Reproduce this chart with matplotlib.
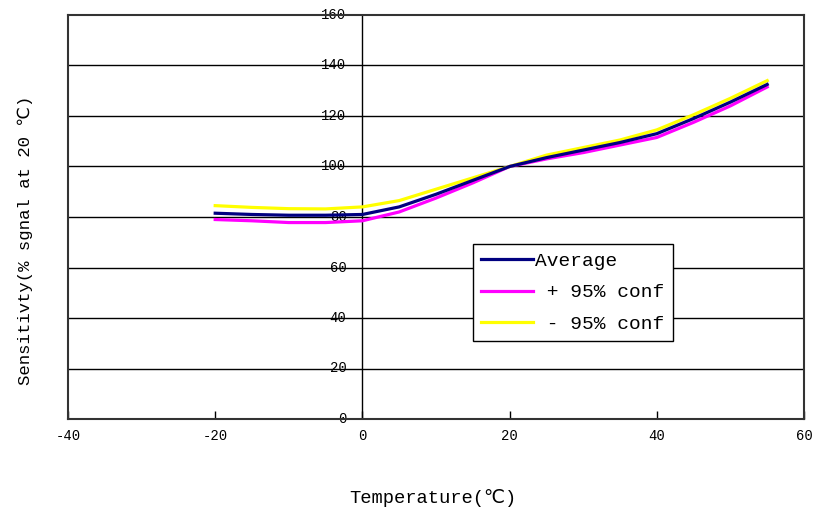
import matplotlib
matplotlib.use("Agg")
import matplotlib.pyplot as plt

plt.rcParams['font.family'] = ['Liberation Mono', 'DejaVu Sans Mono', 'DejaVu Sans']

temps = [-20, -15, -10, -5, 0, 5, 10, 15, 20, 25, 30, 35, 40, 45, 50, 55]
average = [81.5, 81.0, 80.7, 80.7, 81.0, 84.0, 89.0, 94.5, 100.0, 103.5, 106.5, 109.5, 113.0, 119.0, 125.5, 132.5]
plus_conf = [79.0, 78.5, 77.8, 77.8, 78.5, 82.0, 87.5, 93.5, 100.0, 103.0, 105.5, 108.5, 111.5, 117.5, 124.0, 131.5]
minus_conf = [84.5, 83.8, 83.3, 83.2, 84.0, 86.5, 91.0, 95.5, 100.0, 104.5, 107.5, 110.5, 114.5, 120.5, 127.0, 134.0]

x_ticks = [-40, -20, 0, 20, 40, 60]
y_ticks = [0, 20, 40, 60, 80, 100, 120, 140, 160]
labels = ["Average", " + 95% conf", " - 95% conf"]

W, H = 816, 514
fig = plt.figure(figsize=(W / 100, H / 100), dpi=100)
ax = fig.add_axes([68 / W, 1 - 419 / H, (804 - 68) / W, (419 - 15) / H])

ax.set_xlim(-40, 60)
ax.set_ylim(0, 160)

for v in y_ticks[1:-1]:
    ax.axhline(v, color='black', lw=1.0, zorder=1)
ax.axvline(0, color='black', lw=1.0, zorder=1)

la, = ax.plot(temps, average, color='#000080', lw=2.3, zorder=3)
lp, = ax.plot(temps, plus_conf, color='#ff00ff', lw=2.3, zorder=2)
lm, = ax.plot(temps, minus_conf, color='#ffff00', lw=2.3, zorder=2.5)

for s in ax.spines.values():
    s.set_linewidth(1.5)
    s.set_color('#333333')
    s.set_zorder(4)

ax.set_xticks(x_ticks)
ax.set_xticklabels([str(t) for t in x_ticks], fontsize=10)
ax.tick_params(axis='x', direction='in', length=6, width=1, pad=7, colors='black')
ax.set_yticks([])

for v in y_ticks:
    ax.annotate(str(v), xy=(0, v), xytext=(-16, 0), textcoords='offset pixels',
                ha='right', va='center', fontsize=10, zorder=0)

leg = ax.legend([la, lp, lm], labels, loc='upper left', bbox_to_anchor=(0.550, 0.433),
                fontsize=14, frameon=True, fancybox=False, framealpha=1,
                edgecolor='black', handlelength=2.7, handletextpad=0.1,
                labelspacing=0.72, borderpad=0.42, borderaxespad=0)
leg.get_frame().set_linewidth(1.0)

fig.text(433 / W, 1 - 498 / H, "Temperature(℃)", ha='center', va='center', fontsize=13.5)
fig.text(25 / W, 1 - 240 / H, "Sensitivty(% sgnal at 20 ℃)", ha='center', va='center',
         rotation=90, fontsize=12.5)

fig.savefig("out.png", dpi=100)
